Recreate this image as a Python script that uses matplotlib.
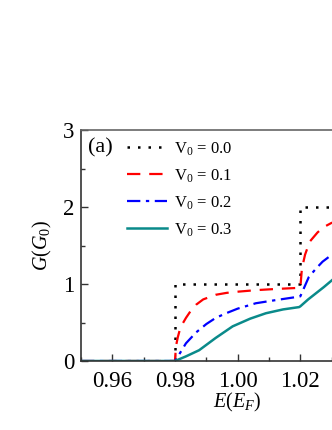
import matplotlib.pyplot as plt
from matplotlib.ticker import MultipleLocator

# datos
e_v00 = [0.95, 0.98, 0.98, 1.02, 1.02, 1.04]
g_v00 = [0.0, 0.0, 1.0, 1.0, 2.0, 2.0]

e_v01 = [0.95, 0.98, 0.9803, 0.9809, 0.9815, 0.9825, 0.9835, 0.985, 0.9867, 0.989,
         0.993, 0.9965, 1.0, 1.0058, 1.012, 1.0196, 1.02, 1.0205, 1.0215, 1.023,
         1.0255, 1.0275, 1.0298, 1.031]
g_v01 = [0.0, 0.0, 0.19, 0.31, 0.40, 0.49, 0.56, 0.65, 0.73, 0.80,
         0.86, 0.885, 0.90, 0.92, 0.935, 0.95, 0.95, 1.20, 1.38, 1.55,
         1.67, 1.74, 1.79, 1.81]

e_v02 = [0.95, 0.98, 0.9805, 0.9835, 0.9867, 0.99, 0.993, 0.9963, 1.0, 1.0058,
         1.012, 1.0186, 1.02, 1.0227, 1.025, 1.0271, 1.031]
g_v02 = [0.0, 0.0, 0.03, 0.23, 0.37, 0.48, 0.56, 0.62, 0.68, 0.75,
         0.79, 0.83, 0.84, 1.09, 1.20, 1.29, 1.41]

e_v03 = [0.95, 0.98, 0.9835, 0.9877, 0.993, 0.9984, 1.004, 1.009, 1.0145, 1.0196,
         1.02, 1.0225, 1.025, 1.0275, 1.031]
g_v03 = [0.0, 0.0, 0.06, 0.14, 0.30, 0.45, 0.55, 0.62, 0.67, 0.70,
         0.71, 0.80, 0.88, 0.96, 1.08]

etiquetas = ['V$_0$ = 0.0', 'V$_0$ = 0.1', 'V$_0$ = 0.2', 'V$_0$ = 0.3']

plt.rcParams['font.family'] = ['Liberation Serif', 'DejaVu Serif']
plt.rcParams['mathtext.fontset'] = 'custom'
plt.rcParams['mathtext.rm'] = 'Liberation Serif'
plt.rcParams['mathtext.it'] = 'Liberation Serif:italic'

fig = plt.figure(figsize=(3.32, 4.30), dpi=100)
ax = fig.add_axes([81 / 332, 1 - 361 / 430, 282 / 332, 231 / 430])

ax.plot(e_v00, g_v00, color='black', lw=1.8, linestyle=(0, (1, 3.2)), label=etiquetas[0])
ax.plot(e_v01, g_v01, color='#ff0000', lw=1.6, linestyle=(0, (6, 4)), label=etiquetas[1])
ax.plot(e_v02, g_v02, color='#0000ff', lw=1.6, linestyle=(0, (6, 2.5, 1.5, 2.5)), label=etiquetas[2])
ax.plot(e_v03, g_v03, color='#0a8a8a', lw=1.8, label=etiquetas[3])

ax.set_xlim(0.95, 1.04)
ax.set_ylim(0, 3)
ax.set_xticks([0.96, 0.98, 1.00, 1.02])
ax.set_xticklabels(['0.96', '0.98', '1.00', '1.02'])
ax.set_yticks([0, 1, 2, 3])
ax.xaxis.set_minor_locator(MultipleLocator(0.01))
ax.yaxis.set_minor_locator(MultipleLocator(0.5))
ax.tick_params(which='both', direction='in', top=False, right=False,
               labelsize=16.5, color='#333333', width=1.0)
ax.tick_params(which='major', length=5, pad=5)
ax.tick_params(axis='x', which='major', pad=7)
ax.tick_params(which='minor', length=3)

for lado in ['left', 'bottom', 'top']:
    ax.spines[lado].set_color('#666666')
    ax.spines[lado].set_linewidth(1.2)
ax.spines['left'].set_color('#333333')
ax.spines['bottom'].set_color('#333333')

ax.set_xlabel('$E(E_F)$', fontsize=14.5)
ax.xaxis.set_label_coords((1.0 - 0.95) / 0.09, -0.13)
ax.set_ylabel('$G(G_0)$', fontsize=14.5)
ax.yaxis.set_label_coords(-0.095, 0.5)

ax.text(88, 430 - 148, '(a)', fontsize=16, transform=None, va='center', ha='left')

ax.legend(loc='upper left', bbox_to_anchor=(0.14, 0.985), frameon=False,
          fontsize=12, handlelength=2.4, handletextpad=0.4, labelspacing=0.58,
          borderaxespad=0)

plt.savefig('out.png', dpi=100)
